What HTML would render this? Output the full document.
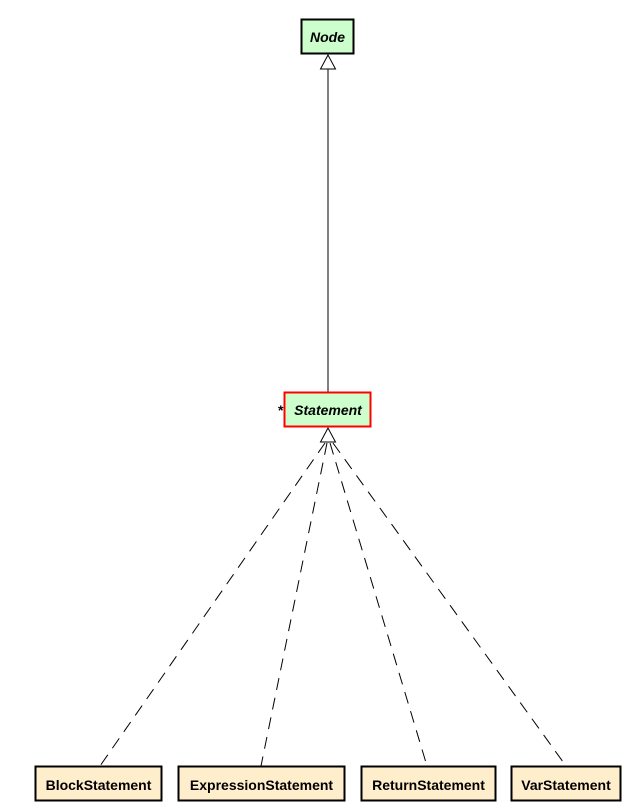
<!DOCTYPE html>
<html><head><meta charset="utf-8"><style>
body{margin:0;background:#fff}
svg{display:block}
text{font-family:"Liberation Sans",Arial,sans-serif;font-weight:bold;font-size:14px}
</style></head><body>
<svg width="624" height="812" viewBox="0 0 624 812">
<g>
<line x1="328" y1="69" x2="328" y2="392" stroke="#000" stroke-width="1"/>
<polygon points="328,55 320.5,69 335.5,69" fill="#fff" stroke="#000"/>
</g>
<g stroke="#000" stroke-dasharray="12,8" fill="none">
<line x1="325" y1="443" x2="100" y2="766"/>
<line x1="327" y1="443" x2="261" y2="766"/>
<line x1="330" y1="443" x2="427" y2="766"/>
<line x1="333" y1="443" x2="566" y2="766"/>
</g>
<polygon points="328,428 320.5,442 335.5,442" fill="#fff" stroke="#000"/>
<g>
<rect x="301.5" y="19.5" width="52" height="34" fill="#ccffcc" stroke="#000" stroke-width="2"/>
<text x="327.5" y="42" text-anchor="middle" font-style="italic">Node</text>
</g>
<g>
<text x="278" y="415" font-size="12" font-weight="normal">*</text>
<rect x="284.5" y="392.5" width="86" height="34" fill="#ccffcc" stroke="#ff0000" stroke-width="2"/>
<text x="328" y="415" text-anchor="middle" font-style="italic">Statement</text>
</g>
<g>
<rect x="35.5" y="766.5" width="126" height="34" fill="#ffeecc" stroke="#000" stroke-width="2"/>
<text x="98.5" y="790" text-anchor="middle">BlockStatement</text>
</g>
<g>
<rect x="178.5" y="766.5" width="166" height="34" fill="#ffeecc" stroke="#000" stroke-width="2"/>
<text x="261.5" y="790" text-anchor="middle">ExpressionStatement</text>
</g>
<g>
<rect x="361.5" y="766.5" width="134" height="34" fill="#ffeecc" stroke="#000" stroke-width="2"/>
<text x="428.5" y="790" text-anchor="middle">ReturnStatement</text>
</g>
<g>
<rect x="511.5" y="766.5" width="109" height="34" fill="#ffeecc" stroke="#000" stroke-width="2"/>
<text x="566" y="790" text-anchor="middle">VarStatement</text>
</g>
</svg>
</body></html>
